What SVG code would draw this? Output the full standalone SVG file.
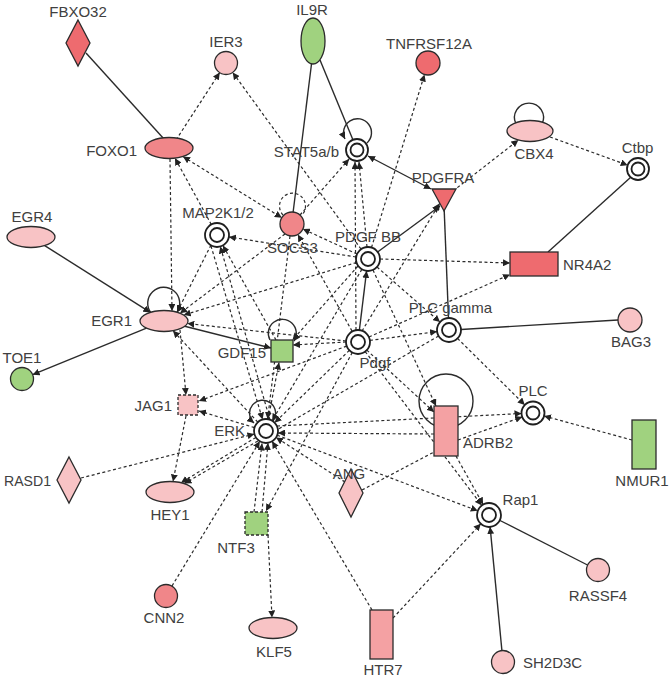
<svg xmlns="http://www.w3.org/2000/svg" width="671" height="680" viewBox="0 0 671 680">
<defs>
<marker id="ar" markerUnits="userSpaceOnUse" markerWidth="8" markerHeight="7" refX="7" refY="3.5" orient="auto"><path d="M0,0 L7,3.5 L0,7 z" fill="#222"/></marker>
<marker id="as" markerUnits="userSpaceOnUse" markerWidth="8" markerHeight="7" refX="7" refY="3.5" orient="auto-start-reverse"><path d="M0,0 L7,3.5 L0,7 z" fill="#222"/></marker>
<style>
.s{stroke:#2b2b2b;stroke-width:1.4;fill:none}
.d{stroke:#2b2b2b;stroke-width:1.2;fill:none;stroke-dasharray:3 2.5}
.a{marker-end:url(#ar)}
.b{marker-start:url(#as);marker-end:url(#as)}
.n{stroke:#2b2b2b;stroke-width:1.3}
.nd{stroke:#2b2b2b;stroke-width:1.3;stroke-dasharray:3 2}
.dc{fill:#fff;stroke:#1e1e1e;stroke-width:1.8}
.dk{fill:#ee6b6f}.md{fill:#f08689}.ad{fill:#f4a1a3}.lt{fill:#f8c3c5}.gr{fill:#a0d27f}
text{font-family:"Liberation Sans",Arial,sans-serif;font-size:15px;fill:#404040}
.m{text-anchor:middle}.e{text-anchor:end}
</style>
</defs>
<rect width="671" height="680" fill="#fff"/>
<g id="connectors">
<line class="s" x1="86" y1="53" x2="164" y2="139"/>
<line class="s" x1="312" y1="60" x2="293" y2="213"/>
<line class="s" x1="320" y1="60" x2="353" y2="140"/>
<line class="s b" x1="368" y1="156" x2="431" y2="189"/>
<line class="s a" x1="377.6" y1="252" x2="440" y2="206"/>
<line class="s" x1="444" y1="205" x2="448.5" y2="318"/>
<line class="s" x1="631" y1="177" x2="548" y2="252"/>
<line class="s a" x1="44.7" y1="245.6" x2="150.3" y2="312.4"/>
<line class="s a" x1="146.5" y1="328.2" x2="32.6" y2="374.7"/>
<line class="s a" x1="184.7" y1="326.3" x2="271" y2="348"/>
<line class="s a" x1="359.4" y1="330" x2="366.6" y2="270.9"/>
<line class="s" x1="461" y1="329.5" x2="618" y2="320"/>
<line class="s" x1="500" y1="520.5" x2="587.5" y2="565"/>
<line class="s a" x1="501.9" y1="650.5" x2="490.1" y2="526.9"/>
<path class="s a" d="M151,313 A16 16 0 1 1 177,312.2"/>
<path class="s a" d="M367,143 A14 14 0 1 0 345,139"/>
<path class="s a" d="M270,340 A14 14 0 1 1 294,341"/>
<path class="s a" d="M273,421 A13 13 0 1 0 254,423"/>
<path class="s" d="M516,124 A14.5 14.5 0 1 1 542,124"/>
<circle class="s" cx="446" cy="401" r="27"/>
<path class="d" d="M283,215 A13 13 0 1 1 302,215"/>
<line class="d a" x1="176" y1="140" x2="219.7" y2="72.6"/>
<line class="d a" x1="361" y1="249" x2="232.7" y2="72.5"/>
<line class="d a" x1="371.5" y1="247.5" x2="424.5" y2="74.5"/>
<line class="d b" x1="183" y1="156.6" x2="281.8" y2="217.7"/>
<line class="d a" x1="211.3" y1="224.5" x2="175" y2="158.2"/>
<line class="d a" x1="170" y1="159" x2="172" y2="311"/>
<line class="d a" x1="300" y1="215" x2="349.1" y2="159"/>
<line class="d a" x1="367" y1="247" x2="359" y2="162"/>
<line class="d a" x1="356" y1="330" x2="355" y2="162"/>
<line class="d a" x1="453" y1="191" x2="518.4" y2="140.1"/>
<line class="d a" x1="550" y1="137" x2="627.7" y2="165.2"/>
<line class="d a" x1="357" y1="254" x2="302.9" y2="229"/>
<line class="d a" x1="352" y1="331" x2="297.9" y2="234.5"/>
<line class="d a" x1="356" y1="257" x2="228.9" y2="236.9"/>
<line class="d a" x1="380" y1="259" x2="510" y2="263"/>
<line class="d a" x1="369" y1="337" x2="510" y2="274.5"/>
<line class="d a" x1="370" y1="340.4" x2="437.1" y2="331.6"/>
<line class="d a" x1="377" y1="267" x2="440" y2="322.1"/>
<line class="d a" x1="457.5" y1="338.4" x2="524.8" y2="404.9"/>
<line class="d a" x1="632" y1="440" x2="544.1" y2="416"/>
<line class="d a" x1="458" y1="440" x2="522.2" y2="416.9"/>
<line class="d a" x1="277" y1="426" x2="521.5" y2="413.5"/>
<line class="d a" x1="373" y1="270" x2="436" y2="406"/>
<line class="d a" x1="366.8" y1="350.1" x2="434" y2="412"/>
<line class="d a" x1="365.2" y1="351.6" x2="481.8" y2="505.4"/>
<line class="d a" x1="456" y1="456" x2="483.1" y2="504.5"/>
<line class="d a" x1="393" y1="618" x2="480.8" y2="523.8"/>
<line class="d a" x1="372" y1="610" x2="272.1" y2="441.3"/>
<line class="d" x1="362" y1="490" x2="434" y2="452"/>
<line class="d a" x1="345" y1="482" x2="276.1" y2="437.5"/>
<line class="d a" x1="277.2" y1="435.2" x2="477.8" y2="510.8"/>
<line class="d a" x1="434" y1="434" x2="278" y2="433"/>
<line class="d a" x1="346.7" y1="346.1" x2="199" y2="401"/>
<line class="d a" x1="254.5" y1="427.6" x2="199" y2="411"/>
<line class="d a" x1="186" y1="416" x2="173" y2="481.5"/>
<line class="d a" x1="180" y1="330" x2="186" y2="395"/>
<line class="d a" x1="257.8" y1="422.2" x2="173" y2="330.7"/>
<line class="d a" x1="255.9" y1="437.4" x2="181" y2="482.7"/>
<line class="d a" x1="438.6" y1="336" x2="184.4" y2="483.6"/>
<line class="d a" x1="81" y1="478" x2="254.4" y2="434"/>
<line class="d a" x1="172" y1="586" x2="259.8" y2="441.3"/>
<line class="d a" x1="254" y1="512" x2="262" y2="443.5"/>
<line class="d a" x1="262" y1="512" x2="268" y2="443"/>
<line class="d a" x1="352.3" y1="352.5" x2="266" y2="511"/>
<line class="d a" x1="268" y1="535" x2="272" y2="617.5"/>
<line class="d a" x1="268.2" y1="419.2" x2="279" y2="362.5"/>
<line class="d a" x1="290" y1="236" x2="267.6" y2="419.1"/>
<line class="d a" x1="346" y1="342" x2="293" y2="345"/>
<line class="d a" x1="211" y1="245" x2="177" y2="312.2"/>
<line class="d a" x1="285" y1="234" x2="180" y2="313.2"/>
<line class="d a" x1="356.5" y1="262.5" x2="183.7" y2="315"/>
<line class="d a" x1="346" y1="341" x2="187.3" y2="323.5"/>
<line class="d a" x1="270" y1="420" x2="220.3" y2="246.5"/>
<line class="d a" x1="276" y1="340" x2="222.9" y2="245.5"/>
<line class="d a" x1="211" y1="246" x2="262.6" y2="419.5"/>
<line class="d a" x1="361.9" y1="269.3" x2="272.1" y2="420.7"/>
<line class="d a" x1="349.4" y1="350.3" x2="274.6" y2="422.7"/>
<line class="d a" x1="362" y1="331" x2="439.8" y2="203.2"/>
<line class="d a" x1="358" y1="266" x2="292.5" y2="340"/>
</g>
<g id="FBXO32"><polygon class="n dk" points="78,20 90,43 78,66 66,43"/><text class="m" x="78" y="17">FBXO32</text></g>
<g id="IER3"><circle class="n lt" cx="226" cy="63" r="11.5"/><text class="m" x="226" y="47">IER3</text></g>
<g id="IL9R"><ellipse class="n gr" cx="313" cy="41" rx="12" ry="23"/><text class="m" x="312" y="15">IL9R</text></g>
<g id="TNFRSF12A"><circle class="n dk" cx="428" cy="63" r="12"/><text class="m" x="429" y="49">TNFRSF12A</text></g>
<g id="FOXO1"><ellipse class="n md" cx="169" cy="148" rx="24" ry="10.5"/><text class="e" x="137" y="156">FOXO1</text></g>
<g id="STAT5ab"><circle class="dc" cx="357" cy="150" r="11"/><circle class="dc" cx="357" cy="150" r="6.5"/><text class="e" x="339" y="157">STAT5a/b</text></g>
<g id="CBX4"><ellipse class="n lt" cx="530" cy="131" rx="23" ry="10.5"/><text class="m" x="534" y="159">CBX4</text></g>
<g id="Ctbp"><circle class="dc" cx="638" cy="169" r="11"/><circle class="dc" cx="638" cy="169" r="6.5"/><text class="m" x="637.5" y="153">Ctbp</text></g>
<g id="PDGFRA"><polygon class="n dk" points="432,189 456,189 444,211"/><text class="m" x="443" y="183">PDGFRA</text></g>
<g id="MAP2K12"><circle class="dc" cx="217" cy="235" r="12"/><circle class="dc" cx="217" cy="235" r="7"/><text class="m" x="218" y="218">MAP2K1/2</text></g>
<g id="SOCS3"><circle class="n md" cx="292" cy="224" r="12"/><text class="m" x="292.5" y="253">SOCS3</text></g>
<g id="PDGFBB"><circle class="dc" cx="368" cy="259" r="12"/><circle class="dc" cx="368" cy="259" r="7"/><text class="m" x="368" y="242">PDGF BB</text></g>
<g id="NR4A2"><rect class="n dk" x="510" y="252" width="48" height="24"/><text x="563" y="270">NR4A2</text></g>
<g id="EGR4"><ellipse class="n lt" cx="31" cy="237" rx="24" ry="10.5"/><text class="m" x="32" y="222">EGR4</text></g>
<g id="EGR1"><ellipse class="n lt" cx="164" cy="321" rx="24" ry="10.5"/><text class="e" x="132" y="326">EGR1</text></g>
<g id="TOE1"><circle class="n gr" cx="22" cy="379" r="11.5"/><text class="m" x="22" y="363">TOE1</text></g>
<g id="GDF15"><rect class="n gr" x="271" y="340" width="22" height="22"/><text class="e" x="266" y="358">GDF15</text></g>
<g id="Pdgf"><circle class="dc" cx="358" cy="342" r="12"/><circle class="dc" cx="358" cy="342" r="7"/><text class="m" x="375" y="368">Pdgf</text></g>
<g id="PLCgamma"><circle class="dc" cx="449" cy="330" r="12"/><circle class="dc" cx="449" cy="330" r="7"/><text class="m" x="450.5" y="313">PLC gamma</text></g>
<g id="BAG3"><circle class="n lt" cx="630" cy="320" r="12"/><text class="m" x="631" y="347">BAG3</text></g>
<g id="JAG1"><rect class="nd lt" x="178" y="395" width="20" height="20"/><text class="e" x="172" y="411">JAG1</text></g>
<g id="ERK"><circle class="dc" cx="266" cy="431" r="12"/><circle class="dc" cx="266" cy="431" r="7"/><text class="e" x="245" y="436">ERK</text></g>
<g id="ADRB2"><rect class="n ad" x="434" y="406" width="24" height="50"/><text x="463" y="448">ADRB2</text></g>
<g id="PLC"><circle class="dc" cx="533" cy="413" r="11.5"/><circle class="dc" cx="533" cy="413" r="6.5"/><text class="m" x="533" y="396">PLC</text></g>
<g id="NMUR1"><rect class="n gr" x="632" y="420" width="24" height="49"/><text class="m" x="642" y="486">NMUR1</text></g>
<g id="RASD1"><polygon class="n lt" points="69,457 81,480 69,503 57,480"/><text x="4" y="486" textLength="47" lengthAdjust="spacingAndGlyphs">RASD1</text></g>
<g id="HEY1"><ellipse class="n lt" cx="170" cy="492" rx="24" ry="10.5"/><text class="m" x="170" y="520">HEY1</text></g>
<g id="ANG"><polygon class="n lt" points="351,469 363,493 351,517 339,493"/><text class="m" x="349" y="479">ANG</text></g>
<g id="Rap1"><circle class="dc" cx="489" cy="515" r="12"/><circle class="dc" cx="489" cy="515" r="7"/><text class="m" x="520.5" y="505">Rap1</text></g>
<g id="NTF3"><rect class="nd gr" x="245" y="512" width="23" height="23"/><text class="m" x="236" y="553">NTF3</text></g>
<g id="CNN2"><circle class="n md" cx="166" cy="596" r="11.5"/><text class="m" x="164" y="623">CNN2</text></g>
<g id="KLF5"><ellipse class="n lt" cx="273" cy="628" rx="24" ry="10.5"/><text class="m" x="274" y="657">KLF5</text></g>
<g id="HTR7"><rect class="n ad" x="370" y="610" width="23" height="49"/><text class="m" x="383" y="675">HTR7</text></g>
<g id="RASSF4"><circle class="n lt" cx="598" cy="570" r="11.5"/><text class="m" x="598" y="601">RASSF4</text></g>
<g id="SH2D3C"><circle class="n lt" cx="503" cy="662" r="11.5"/><text x="523" y="668">SH2D3C</text></g>
</svg>
